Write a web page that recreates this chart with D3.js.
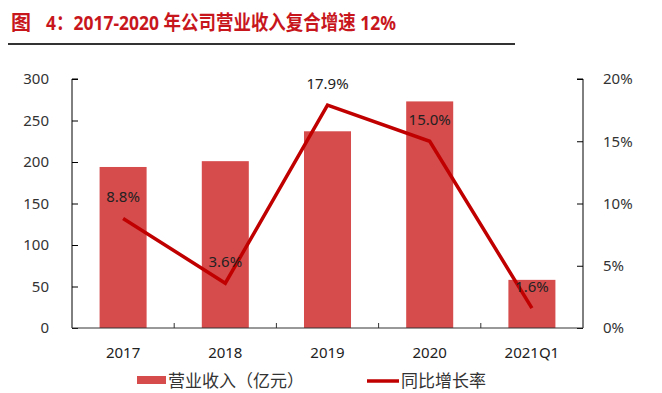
<!DOCTYPE html>
<html>
<head>
<meta charset="utf-8">
<script src="https://cdn.jsdelivr.net/npm/d3@7"></script>
<style>
  body { margin: 0; background: #fff; }
  text { font-family: "Noto Sans", "Noto Sans CJK SC", sans-serif; }
</style>
</head>
<body>
<div id="chart"></div>
<script>
// data
const categories = ["2017", "2018", "2019", "2020", "2021Q1"];
const revenue = [194, 201, 237, 273, 58];
const growth = [8.8, 3.6, 17.9, 15.0, 1.6];
const leftTicks = [0, 50, 100, 150, 200, 250, 300];
const rightTicks = [0, 5, 10, 15, 20];

const svgWidth = 662, svgHeight = 393;
const margin = { top: 79, right: 79, bottom: 65, left: 72 };
const width = svgWidth - margin.left - margin.right;
const height = svgHeight - margin.top - margin.bottom;

const svg = d3.select("#chart")
    .append("svg")
    .attr("width", svgWidth)
    .attr("height", svgHeight);

// title
const title = svg.append("g")
    .attr("fill", "#c8161d")
    .attr("font-weight", "bold")
    .attr("font-size", 20)
    .style("font-family", "'Liberation Sans', 'Noto Sans CJK SC', sans-serif");
title.append("text")
    .attr("x", 11).attr("y", 30)
    .style("font-family", "'Noto Sans CJK SC', sans-serif")
    .text("图");
title.append("text")
    .attr("x", 46).attr("y", 30)
    .attr("textLength", 350)
    .attr("lengthAdjust", "spacingAndGlyphs")
    .text("4：2017-2020 年公司营业收入复合增速 12%");

svg.append("line")
    .attr("x1", 8).attr("x2", 515)
    .attr("y1", 44).attr("y2", 44)
    .attr("stroke", "#333")
    .attr("stroke-width", 2);

const chart = svg.append("g")
    .attr("transform", `translate(${margin.left},${margin.top})`);

const x = d3.scaleBand()
    .domain(categories)
    .range([0, width])
    .paddingInner(0.54)
    .paddingOuter(0.27);

const y = d3.scaleLinear().domain([0, 300]).range([height, 0]);
const y2 = d3.scaleLinear().domain([0, 20]).range([height, 0]);

// bars
chart.append("g").selectAll("rect")
    .data(revenue)
    .join("rect")
    .attr("x", (d, i) => x(categories[i]))
    .attr("y", d => y(d))
    .attr("width", x.bandwidth())
    .attr("height", d => height - y(d))
    .attr("fill", "#d64b4c");

// left axis
const yAxis = chart.append("g")
    .call(d3.axisRight(y).tickValues(leftTicks).tickSize(6).tickFormat(""));
yAxis.select(".domain").attr("d", `M6,0H0V${height}`);

chart.append("g").selectAll("text")
    .data(leftTicks)
    .join("text")
    .attr("x", -23)
    .attr("y", d => y(d))
    .attr("dy", "0.35em")
    .attr("text-anchor", "end")
    .attr("font-size", 15)
    .attr("fill", "#333")
    .text(d => d);

// right axis
const y2Axis = chart.append("g")
    .attr("transform", `translate(${width},0)`)
    .call(d3.axisLeft(y2).tickValues(rightTicks).tickSize(6).tickFormat(""));
y2Axis.select(".domain").attr("d", `M-6,0H0V${height}`);

chart.append("g").selectAll("text")
    .data(rightTicks)
    .join("text")
    .attr("x", width + 20)
    .attr("y", d => y2(d))
    .attr("dy", "0.35em")
    .attr("text-anchor", "start")
    .attr("font-size", 15)
    .attr("fill", "#333")
    .text(d => d + "%");

// x axis with ticks between categories
const step = x.step();
chart.append("line")
    .attr("x1", 0).attr("x2", width)
    .attr("y1", height).attr("y2", height)
    .attr("stroke", "#333");
chart.append("g").selectAll("line")
    .data(categories.slice(1))
    .join("line")
    .attr("x1", d => x(d) - (step - x.bandwidth()) / 2)
    .attr("x2", d => x(d) - (step - x.bandwidth()) / 2)
    .attr("y1", height).attr("y2", height - 5)
    .attr("stroke", "#333");

chart.append("g").selectAll("text")
    .data(categories)
    .join("text")
    .attr("x", d => x(d) + x.bandwidth() / 2)
    .attr("y", height + 25)
    .attr("dy", "0.35em")
    .attr("text-anchor", "middle")
    .attr("font-size", 15)
    .attr("fill", "#222")
    .text(d => d);

// growth line
chart.append("path")
    .datum(growth)
    .attr("fill", "none")
    .attr("stroke", "#c00000")
    .attr("stroke-width", 3.5)
    .attr("d", d3.line()
        .x((d, i) => x(categories[i]) + x.bandwidth() / 2)
        .y(d => y2(d)));

chart.append("g").selectAll("text")
    .data(growth)
    .join("text")
    .attr("x", (d, i) => x(categories[i]) + x.bandwidth() / 2)
    .attr("y", d => y2(d) - 16)
    .attr("text-anchor", "middle")
    .attr("font-size", 15)
    .attr("fill", "#222")
    .text(d => d.toFixed(1) + "%");

// legend
const legend = svg.append("g");
legend.append("rect")
    .attr("x", 137).attr("y", 376)
    .attr("width", 29).attr("height", 8)
    .attr("fill", "#d64b4c");
legend.append("text")
    .attr("x", 168).attr("y", 381)
    .attr("dy", "0.35em")
    .attr("font-size", 17)
    .attr("fill", "#333")
    .style("font-family", "'Noto Sans CJK SC', sans-serif")
    .text("营业收入（亿元）");
legend.append("line")
    .attr("x1", 367).attr("x2", 399)
    .attr("y1", 381).attr("y2", 381)
    .attr("stroke", "#c00000")
    .attr("stroke-width", 3.5);
legend.append("text")
    .attr("x", 401).attr("y", 381)
    .attr("dy", "0.35em")
    .attr("font-size", 17)
    .attr("fill", "#333")
    .style("font-family", "'Noto Sans CJK SC', sans-serif")
    .text("同比增长率");
</script>
</body>
</html>
